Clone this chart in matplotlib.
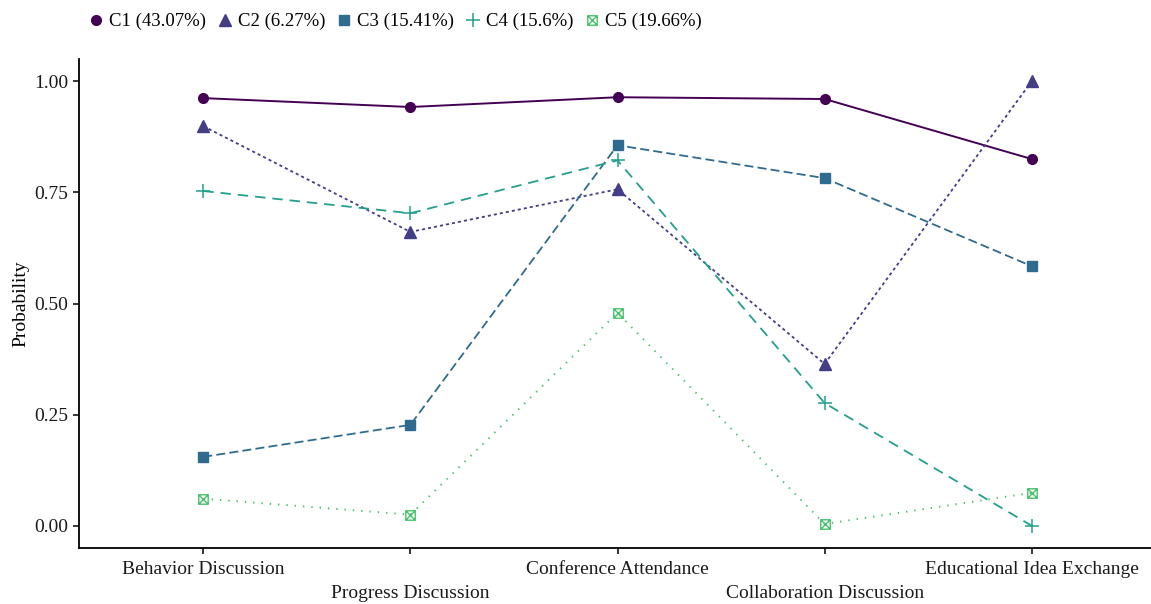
import matplotlib
matplotlib.use("Agg")
import matplotlib.pyplot as plt
from matplotlib.path import Path
from matplotlib.lines import Line2D

plt.rcParams["font.family"] = ["Liberation Serif", "DejaVu Serif"]
plt.rcParams["lines.scale_dashes"] = False

# Indicator categories (x axis) and class-conditional item probabilities
categories = ["Behavior Discussion", "Progress Discussion", "Conference Attendance",
              "Collaboration Discussion", "Educational Idea Exchange"]
class_labels = ["C1 (43.07%)", "C2 (6.27%)", "C3 (15.41%)", "C4 (15.6%)", "C5 (19.66%)"]
c1 = [0.962, 0.942, 0.964, 0.960, 0.825]
c2 = [0.899, 0.661, 0.757, 0.364, 1.000]
c3 = [0.155, 0.227, 0.856, 0.782, 0.584]
c4 = [0.753, 0.703, 0.822, 0.276, 0.000]
c5 = [0.061, 0.025, 0.479, 0.004, 0.074]
y_ticks = [0.00, 0.25, 0.50, 0.75, 1.00]

series = [c1, c2, c3, c4, c5]
colors = ["#440154", "#433E85", "#2F6B8E", "#22A08C", "#4AC16D"]

# square with an X inside
box_x = Path(
    [(-1, -1), (1, -1), (1, 1), (-1, 1), (-1, -1),
     (-1, -1), (1, 1), (-1, 1), (1, -1)],
    [Path.MOVETO, Path.LINETO, Path.LINETO, Path.LINETO, Path.CLOSEPOLY,
     Path.MOVETO, Path.LINETO, Path.MOVETO, Path.LINETO],
)

styles = [
    dict(marker="o", ms=7, ls="-", lw=1.4, mfc=None),
    dict(marker="^", ms=8, ls=(0, (2.2, 2.2)), lw=1.3, mfc=None),
    dict(marker="s", ms=6.8, ls=(0, (6.5, 3.0)), lw=1.3, mfc=None),
    dict(marker="+", ms=10.5, ls=(0, (7.5, 5.0)), lw=1.3, mfc=None, mew=1.1),
    dict(marker=box_x, ms=6.8, ls=(0, (1.0, 5.0)), lw=1.4, mfc="none", mew=1.0),
]

fig = plt.figure(figsize=(11.51, 6.04), dpi=100)
W, H = 1151, 604
ax = fig.add_axes([79 / W, (H - 548) / H, (1156 - 79) / W, (548 - 59) / H])

x = list(range(1, len(categories) + 1))
handles = []
for vals, col, st, lab in zip(series, colors, styles, class_labels):
    kw = dict(color=col, marker=st["marker"], markersize=st["ms"],
              linestyle=st["ls"], linewidth=st["lw"])
    if st.get("mfc") is not None:
        kw["markerfacecolor"] = st["mfc"]
    if st.get("mew") is not None:
        kw["markeredgewidth"] = st["mew"]
    ax.plot(x, vals, **kw)
    hk = dict(kw)
    hk["linestyle"] = "none"
    handles.append(Line2D([], [], label=lab, **hk))

ax.set_xlim(0.4, 5.6)
ax.set_ylim(-0.05, 1.05)
ax.set_xticks(x)
ax.set_xticklabels(categories)
ax.set_yticks(y_ticks)
ax.set_yticklabels([f"{v:.2f}" for v in y_ticks])
ax.set_ylabel("Probability", fontsize=14, labelpad=4)

for sp in ["top", "right"]:
    ax.spines[sp].set_visible(False)
for sp in ["left", "bottom"]:
    ax.spines[sp].set_linewidth(1.3)
    ax.spines[sp].set_color("black")

ax.tick_params(axis="both", which="major", direction="out", length=4.5,
               width=1.1, colors="black", labelsize=14, labelcolor="#1a1a1a")
ax.tick_params(axis="y", pad=3)
for i, tick in enumerate(ax.xaxis.get_major_ticks()):
    tick.set_pad(5 if i % 2 == 0 else 22.5)

fig.legend(handles=handles, loc="upper left", bbox_to_anchor=(75 / W, 1.0),
           ncol=5, frameon=False, fontsize=13.5, handlelength=0.8,
           handletextpad=0.3, columnspacing=0.6, borderaxespad=0.3)

fig.savefig("out.png", dpi=100)
